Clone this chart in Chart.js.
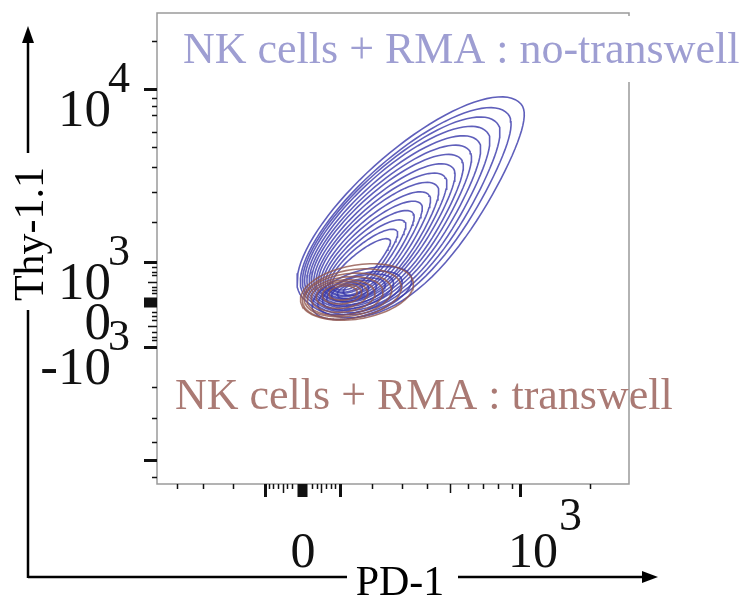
<!DOCTYPE html>
<html>
<head>
<meta charset="utf-8">
<script src="https://cdn.jsdelivr.net/npm/chart.js@4/dist/chart.umd.min.js"></script>
<style>
  html, body { margin: 0; padding: 0; background: #fff; }
  canvas { display: block; }
</style>
</head>
<body>
<canvas id="myChart" width="741" height="599"></canvas>
<script>
// axes are in display channels (0..1000), like a FlowJo logicle display
var xTickPos  = [41.7, 96.8, 160.0, 228.8, 237.3, 246.8, 256.4, 265.9, 275.4, 285.0, 307.2, 329.4, 339.0, 348.5, 358.0, 367.6, 377.1, 387.7, 454.9, 518.4, 571.4, 620.7, 658.9, 690.7, 722.4, 752.1, 769.1, 917.4];
var xTickKind = ['minor', 'minor', 'minor', 'long', 'minor', 'minor', 'minor', 'mid', 'minor', 'minor', 'zero', 'minor', 'minor', 'mid', 'minor', 'minor', 'minor', 'long', 'minor', 'minor', 'minor', 'mid', 'minor', 'minor', 'minor', 'minor', 'major', 'minor'];
var xLabelPos = [307.2, 769.1];
var xLabelBase = ['0', '10'];
var xLabelSup = ['', '3'];

var yTickPos  = [940.5, 838.6, 819.5, 802.5, 783.4, 747.3, 715.5, 673.0, 619.9, 556.3, 471.3, 461.4, 450.7, 443.7, 429.5, 418.9, 411.9, 405.5, 386.4, 365.8, 356.7, 348.2, 335.4, 323.4, 312.7, 305.7, 290.9, 205.9, 140.1, 89.2, 51.0, 14.9];
var yTickKind = ['minor', 'major', 'minor', 'minor', 'minor', 'minor', 'minor', 'minor', 'minor', 'minor', 'major', 'minor', 'minor', 'minor', 'mid', 'minor', 'minor', 'minor', 'zero', 'minor', 'minor', 'minor', 'mid', 'minor', 'minor', 'minor', 'major', 'minor', 'minor', 'minor', 'long', 'minor'];
var yLabelPos = [838.6, 471.3, 386.4, 290.9];
var yLabelBase = ['10', '10', '0', '-10'];
var yLabelSup = ['4', '3', '', '3'];

// NK cells + RMA : no-transwell  (blue contours: tip, tail, half widths on each side)
var blueTipX  = [771.2, 743.6, 720.3, 699.1, 680.1, 661.0, 644.1, 627.1, 610.2, 593.2, 576.3, 559.3, 542.4, 525.4, 508.5, 493.6];
var blueTipY  = [806.8, 785.5, 766.4, 747.3, 728.2, 709.1, 690.0, 670.9, 651.8, 632.7, 613.6, 594.5, 575.4, 556.3, 537.1, 518.0];
var blueTailX = [307.2, 313.6, 317.8, 322.0, 326.3, 330.5, 334.7, 339.0, 343.2, 347.5, 351.7, 355.9, 360.2, 364.4, 368.6, 372.9];
var blueTailY = [397.0, 399.2, 401.3, 403.4, 405.5, 407.6, 409.8, 411.9, 411.9, 414.0, 414.0, 416.1, 416.1, 418.3, 418.3, 420.4];
var blueWidthUp  = [107, 99, 94, 89, 83, 77, 72, 66, 61, 56, 50, 44, 39, 33, 28, 22];
var blueWidthLow = [141, 131, 124, 117, 109, 102, 95, 87, 80, 74, 66, 59, 52, 44, 37, 29];

// second, low blue peak
var coreX = [434.3, 430.1, 425.8, 421.6, 417.4, 415.2, 415.2];
var coreY = [405.5, 405.5, 407.6, 407.6, 409.8, 409.8, 411.9];
var coreA = [110, 93, 78, 64, 49, 34, 21];
var coreB = [47, 38, 32, 25, 19, 15, 11];
var coreAngle = [18, 18, 17, 16, 15, 14, 14];

// NK cells + RMA : transwell  (brown contours)
var brownX = [423.7, 413.1, 404.7, 398.3, 394.1, 391.9, 391.9, 394.1];
var brownY = [407.6, 403.4, 401.3, 399.2, 399.2, 401.3, 403.4, 405.5];
var brownA = [121, 106, 93, 81, 68, 55, 42, 30];
var brownB = [57, 51, 45, 40, 34, 28, 21, 15];
var brownAngle = [10, 10, 8, 8, 6, 6, 5, 5];

var blueLine = 'rgba(55, 55, 170, 0.8)';
var brownLine = 'rgba(145, 85, 75, 0.8)';

// closed outline; bUp on the upper-left side, bLow on the lower-right side
function outline(cx, cy, a, bUp, bLow, deg, skew) {
    var pts = [];
    var t = deg * Math.PI / 180;
    for (var i = 0; i <= 90; i++) {
        var s = i / 90 * 2 * Math.PI;
        var cs = Math.cos(s), sn = Math.sin(s);
        var u = a * cs;
        var v = sn > 0 ? bUp * sn : bLow * sn * (1 - skew * cs);
        pts.push({ x: cx + u * Math.cos(t) - v * Math.sin(t), y: cy + u * Math.sin(t) + v * Math.cos(t) });
    }
    return pts;
}

function contour(points, color) {
    return { data: points, showLine: true, pointRadius: 0, borderColor: color, borderWidth: 1.6, fill: false };
}

var datasets = [];
brownX.forEach(function (x, i) {
    datasets.push(contour(outline(x, brownY[i], brownA[i], brownB[i], brownB[i], brownAngle[i], 0), brownLine));
});
blueTipX.forEach(function (tx, i) {
    var dx = tx - blueTailX[i], dy = blueTipY[i] - blueTailY[i];
    var cx = (tx + blueTailX[i]) / 2, cy = (blueTipY[i] + blueTailY[i]) / 2;
    var a = Math.sqrt(dx * dx + dy * dy) / 2;
    datasets.push(contour(outline(cx, cy, a, blueWidthUp[i], blueWidthLow[i], Math.atan2(dy, dx) * 180 / Math.PI, 0.4), blueLine));
});
coreX.forEach(function (x, i) {
    datasets.push(contour(outline(x, coreY[i], coreA[i], coreB[i], coreB[i], coreAngle[i], 0), blueLine));
});

var serif = '"Liberation Serif", "DejaVu Serif", serif';

var flowAxes = {
    id: 'flowAxes',
    beforeDatasetsDraw: function (chart) {
        var c = chart.ctx, a = chart.chartArea;
        var xs = chart.scales.x, ys = chart.scales.y;
        c.save();
        c.strokeStyle = '#9a9a9a';
        c.lineWidth = 1.5;
        c.strokeRect(a.left, a.top, a.right - a.left, a.bottom - a.top);

        c.strokeStyle = '#111';
        c.fillStyle = '#111';
        var len = { minor: 5, mid: 9, long: 13, major: 13 };
        yTickPos.forEach(function (v, i) {
            var py = Math.round(ys.getPixelForValue(v)) + 0.5;
            var k = yTickKind[i];
            if (k === 'zero') { c.fillRect(a.left - 13, py - 5, 13, 10); return; }
            c.lineWidth = (k === 'major' || k === 'long') ? 3 : 1.5;
            c.beginPath(); c.moveTo(a.left - len[k], py); c.lineTo(a.left, py); c.stroke();
        });
        xTickPos.forEach(function (v, i) {
            var px = Math.round(xs.getPixelForValue(v)) + 0.5;
            var k = xTickKind[i];
            if (k === 'zero') { c.fillRect(px - 5, a.bottom, 10, 13); return; }
            c.lineWidth = (k === 'major' || k === 'long') ? 3 : 1.5;
            c.beginPath(); c.moveTo(px, a.bottom); c.lineTo(px, a.bottom + len[k]); c.stroke();
        });

        // tick labels
        c.textBaseline = 'alphabetic';
        yLabelPos.forEach(function (v, i) {
            var py = ys.getPixelForValue(v);
            c.font = '53px ' + serif;
            c.textAlign = 'right';
            c.fillText(yLabelBase[i], 111, py + 37);
            if (yLabelSup[i]) {
                c.font = '44px ' + serif;
                c.textAlign = 'left';
                c.fillText(yLabelSup[i], 108, py + 3);
            }
        });
        xLabelPos.forEach(function (v, i) {
            var px = xs.getPixelForValue(v);
            c.font = '50px ' + serif;
            if (xLabelSup[i]) {
                c.textAlign = 'left';
                c.fillText(xLabelBase[i], px - 12, 567);
                c.font = '46px ' + serif;
                c.fillText(xLabelSup[i], px + 39, 530);
            } else {
                c.textAlign = 'center';
                c.fillText(xLabelBase[i], px + 1, 567);
            }
        });
        c.restore();
    },
    afterDatasetsDraw: function (chart) {
        var c = chart.ctx, a = chart.chartArea;
        c.save();
        c.font = '44px ' + serif;
        c.textAlign = 'left';
        c.textBaseline = 'alphabetic';
        var w = c.measureText('NK cells + RMA : no-transwell').width;
        c.fillStyle = '#fff';
        c.fillRect(180, a.top + 3, w + 8, 66 - a.top + 13);
        c.fillStyle = 'rgb(158, 158, 210)';
        c.fillText('NK cells + RMA : no-transwell', 183, 63);
        c.fillStyle = 'rgb(170, 122, 116)';
        c.fillText('NK cells + RMA : transwell', 175, 409);

        // axis titles with arrows
        c.fillStyle = '#000';
        c.strokeStyle = '#000';
        c.lineWidth = 2.5;
        c.font = '42px ' + serif;
        c.textAlign = 'center';
        c.fillText('PD-1', 400, 595);
        c.beginPath();
        c.moveTo(28, 577); c.lineTo(347, 577);
        c.moveTo(458, 577); c.lineTo(645, 577);
        c.moveTo(28, 578); c.lineTo(28, 310);
        c.moveTo(28, 153); c.lineTo(28, 40);
        c.stroke();
        c.beginPath(); c.moveTo(658, 577); c.lineTo(642, 571); c.lineTo(642, 583); c.closePath(); c.fill();
        c.beginPath(); c.moveTo(28, 26); c.lineTo(22, 43); c.lineTo(34, 43); c.closePath(); c.fill();
        c.translate(43, 234);
        c.rotate(-Math.PI / 2);
        c.fillText('Thy-1.1', 0, 0);
        c.restore();
    }
};

var ctx = document.getElementById('myChart').getContext('2d');
var myChart = new Chart(ctx, {
    type: 'scatter',
    data: { datasets: datasets },
    options: {
        responsive: false,
        animation: false,
        devicePixelRatio: 1,
        layout: { padding: { left: 157, right: 112, top: 13, bottom: 115 } },
        plugins: { legend: { display: false }, tooltip: { enabled: false } },
        scales: {
            x: { type: 'linear', min: 0, max: 1000, display: false },
            y: { type: 'linear', min: 0, max: 1000, display: false }
        }
    },
    plugins: [flowAxes]
});
</script>
</body>
</html>
